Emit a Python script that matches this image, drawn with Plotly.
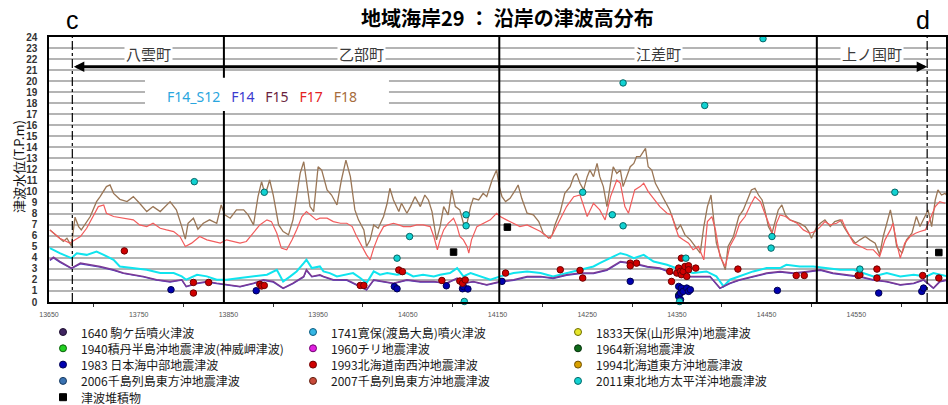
import plotly.graph_objects as go

# ---- simulated tsunami water levels along the coast (T.P. m) ----
F18_X = [13651, 13666, 13670, 13675, 13679, 13683, 13686, 13692, 13696, 13703,
         13707, 13714, 13718, 13722, 13729, 13737, 13744, 13751, 13759, 13766,
         13774, 13785, 13792, 13798, 13802, 13805, 13811, 13816, 13822, 13829,
         13837, 13842, 13846, 13852, 13859, 13867, 13872, 13878, 13883, 13887,
         13891, 13896, 13900, 13906, 13911, 13917, 13922, 13930, 13934,
         13941, 13945, 13950, 13954, 13960, 13965, 13971, 13976, 13981, 13986,
         13991, 13995, 14001, 14004, 14008, 14012, 14017, 14023, 14027, 14030,
         14034, 14040, 14043, 14049, 14053, 14058, 14064, 14069, 14073, 14077,
         14082, 14086, 14090, 14095, 14099, 14103, 14108, 14112, 14116, 14120,
         14123, 14129, 14134, 14138, 14144, 14149, 14152, 14155, 14159, 14164,
         14170, 14173, 14177, 14183, 14190, 14196, 14201, 14207, 14211, 14214,
         14220, 14225, 14231, 14235, 14238, 14242, 14246, 14250, 14253, 14257,
         14261, 14264, 14268, 14272, 14276, 14279, 14283, 14287, 14290, 14294,
         14298, 14302, 14305, 14309, 14315,
         14318, 14322, 14326, 14331, 14337, 14342, 14346, 14350, 14354, 14359,
         14365, 14370, 14376, 14380, 14384, 14388, 14391, 14394, 14400, 14404,
         14407, 14413, 14419, 14424, 14430, 14433, 14437, 14441, 14445, 14448,
         14452, 14456, 14459, 14463, 14467, 14471, 14476, 14482, 14487, 14493,
         14497, 14500, 14506, 14510, 14515, 14521, 14526, 14532, 14537, 14543,
         14549, 14554, 14560, 14565, 14571, 14576, 14580, 14584, 14588, 14591,
         14595, 14601, 14606, 14612, 14617, 14621, 14627, 14630, 14634, 14638,
         14641, 14645, 14649, 14652]
F18_Y = [6.53, 5.48, 5.78, 5.09, 7.68, 6.83, 6.53, 7.28, 7.74, 9.09,
         9.54, 10.45, 10.60, 9.84, 9.30, 9.09, 9.54, 8.94, 8.19, 8.64,
         8.19, 9.09, 8.34, 6.83, 5.69, 7.13, 7.59, 6.59, 7.13, 7.44,
         7.13, 8.79, 7.89, 7.59, 8.34, 8.34, 7.89, 6.98, 9.54, 10.90,
         9.69, 11.05, 9.69, 6.98, 6.38, 6.08, 7.44, 11.65, 12.70,
         8.64, 8.19, 12.25, 11.95, 10.15, 9.69, 8.79, 11.05, 12.85, 11.35,
         8.34, 7.44, 6.53, 5.03, 5.63, 6.98, 6.68, 7.74, 8.94, 10.30,
         9.24, 8.19, 8.94, 8.04, 8.64, 9.54, 8.64, 9.69, 9.24, 8.19,
         5.63, 6.83, 8.64, 7.89, 10.15, 8.64, 8.34, 7.13, 7.13, 8.64,
         9.39, 9.24, 9.84, 9.54, 11.05, 11.95, 10.45, 9.54, 9.09, 9.39,
         10.15, 10.60, 9.39, 8.04, 7.89, 7.28, 6.23, 5.78, 6.08, 6.98,
         8.19, 9.84, 10.45, 11.35, 11.65, 10.75, 10.15, 11.35, 11.95, 11.35,
         12.55, 11.35, 10.45, 8.64, 10.75, 12.25, 11.65, 11.95, 10.45, 11.35,
         12.25, 12.55, 13.16, 13.16, 13.91,
         12.25, 11.95, 10.75, 10.00, 9.09, 8.34, 7.44, 6.53, 6.98, 6.08,
         5.63, 5.03, 4.42, 6.83, 8.64, 9.69, 7.74, 5.33, 3.82, 2.92,
         5.03, 5.93, 7.74, 8.34, 9.54, 10.15, 10.30, 9.69, 9.24, 8.34,
         6.83, 6.23, 7.13, 8.34, 8.79, 7.89, 7.44, 7.28, 7.13, 6.83,
         6.38, 5.78, 6.83, 7.13, 7.44, 6.83, 7.28, 7.44, 6.68, 5.93,
         5.33, 5.63, 5.93, 5.63, 5.33, 4.27, 5.93, 7.13, 8.34, 7.13,
         5.03, 4.42, 5.63, 6.23, 7.74, 6.83, 7.89, 8.34, 6.83, 9.24,
         10.15, 9.69, 9.84, 9.54]

F17_X = [13651, 13662, 13673, 13685, 13692, 13699, 13705, 13711, 13714, 13722,
         13733, 13744, 13751, 13759, 13766, 13774, 13781, 13789, 13796, 13802,
         13809, 13818, 13826, 13833, 13841, 13848, 13855, 13863, 13870, 13878,
         13885, 13893, 13898, 13904, 13909, 13915, 13921, 13926, 13932, 13937,
         13943, 13948,
         13952, 13960, 13967, 13975, 13982, 13988, 13993, 13999, 14004, 14008,
         14012, 14017, 14023, 14028, 14034, 14040, 14045, 14053, 14060, 14067,
         14075, 14079, 14083, 14086, 14090, 14095, 14101, 14105, 14108, 14112,
         14116, 14118, 14121, 14127, 14134, 14142, 14149, 14153, 14160, 14168,
         14175, 14183, 14190, 14198, 14205, 14209, 14212, 14220, 14227, 14235,
         14242, 14250, 14257, 14264, 14270, 14276, 14283, 14287, 14292, 14296,
         14303, 14309, 14313, 14318, 14324, 14331, 14339, 14344, 14348, 14352,
         14357, 14363, 14368, 14374, 14380, 14384, 14389, 14393, 14398, 14404,
         14409, 14415, 14420, 14426, 14432, 14437, 14443, 14448, 14454, 14458,
         14461, 14465, 14471, 14476, 14484, 14491, 14498, 14504, 14510, 14515,
         14521, 14528, 14534, 14539, 14547, 14554, 14562, 14569, 14576, 14582,
         14588, 14591, 14595, 14599, 14604, 14610, 14616, 14621, 14627, 14632,
         14638, 14643, 14649]
F17_Y = [6.53, 5.78, 5.33, 5.93, 6.68, 7.74, 8.64, 8.79, 8.04, 7.74,
         7.59, 7.44, 6.98, 6.83, 7.13, 6.68, 6.53, 6.38, 5.93, 5.03,
         5.33, 5.93, 5.63, 5.48, 5.33, 5.63, 5.48, 5.33, 5.48, 6.23,
         6.98, 7.44, 7.28, 6.23, 4.88, 4.73, 5.63, 6.53, 7.74, 8.19,
         7.74, 7.44,
         7.59, 7.59, 7.28, 7.13, 7.13, 6.83, 5.93, 5.03, 4.27, 3.82,
         4.88, 5.93, 6.83, 6.98, 7.13, 6.98, 6.83, 6.83, 6.98, 6.98,
         6.83, 5.93, 4.73, 5.63, 6.53, 7.13, 7.59, 6.83, 5.93, 5.63,
         5.03, 4.42, 5.63, 6.83, 7.13, 7.44, 8.04, 7.74, 7.44, 7.13,
         6.83, 6.98, 6.68, 6.38, 5.93, 5.78, 6.23, 7.44, 8.64, 9.54,
         9.69, 7.74, 8.94, 8.34, 7.44, 9.54, 11.05, 10.75, 8.64, 8.04,
         10.15, 10.45, 10.75, 10.00, 9.39, 8.64, 8.04, 7.89, 6.83, 5.93,
         5.63, 5.33, 4.73, 5.03, 3.82, 7.28, 7.74, 6.53, 4.12, 3.22,
         5.03, 5.93, 7.13, 7.74, 8.79, 9.54, 9.09, 8.04, 6.83, 5.93,
         7.13, 7.89, 7.74, 7.44, 7.13, 6.53, 6.23, 6.38, 6.83, 7.28,
         6.98, 7.13, 7.44, 6.53, 5.33, 5.03, 4.73, 4.73, 4.12, 5.63,
         6.53, 7.13, 5.33, 3.97, 5.33, 5.93, 6.23, 6.38, 6.53, 7.44,
         8.64, 9.09, 8.94]

F14S12_X = [13651, 13662, 13675, 13681, 13692, 13703, 13711, 13722, 13729, 13744,
            13759, 13774, 13789, 13798, 13803, 13815, 13826, 13837, 13848, 13863,
            13878, 13893, 13904, 13911, 13919, 13926, 13934, 13937, 13943, 13952,
            13956, 13963, 13971, 13982, 13989, 13997, 14004, 14012, 14019, 14027,
            14038, 14049, 14056, 14067, 14079, 14086, 14097, 14105, 14112, 14120,
            14131, 14142, 14153, 14168, 14183, 14198, 14212, 14227, 14242, 14257,
            14264, 14279, 14287, 14294, 14302, 14313, 14324, 14339, 14354, 14368,
            14383, 14394, 14402, 14409, 14420, 14435, 14450, 14465, 14472, 14487,
            14502, 14517, 14532, 14547, 14558, 14569, 14584, 14599, 14614, 14628,
            14636, 14652]
F14S12_Y = [4.88, 4.42, 3.97, 4.42, 4.27, 4.57, 4.27, 3.82, 3.22, 3.07,
            2.92, 2.62, 2.62, 2.32, 2.02, 2.47, 2.32, 2.02, 2.02, 2.17,
            2.32, 2.47, 2.92, 1.86, 2.32, 2.77, 3.52, 3.82, 3.07, 3.22,
            2.77, 2.62, 2.32, 2.47, 2.62, 2.17, 1.71, 2.77, 2.47, 2.62,
            2.47, 2.62, 2.32, 2.47, 2.32, 2.47, 2.62, 3.07, 2.32, 2.62,
            2.32, 2.02, 2.32, 2.62, 2.77, 2.62, 2.32, 2.62, 2.92, 3.22,
            3.52, 4.12, 4.42, 4.27, 3.97, 4.27, 3.67, 3.37, 2.92, 2.62,
            2.77, 2.32, 1.41, 2.02, 2.32, 2.77, 3.07, 3.07, 3.37, 3.22,
            3.22, 3.07, 2.92, 2.92, 2.62, 2.32, 2.62, 2.32, 2.47, 2.32,
            2.62, 2.32]

F15_X = [13651, 13655, 13662, 13675, 13685, 13696, 13707, 13722, 13733, 13744,
         13755, 13770, 13785, 13798, 13803, 13815, 13826, 13837, 13848, 13863,
         13878, 13889, 13900, 13911, 13922, 13934, 13937, 13943, 13952, 13956,
         13967, 13982, 13997, 14004, 14012, 14023, 14034, 14049, 14064, 14079,
         14093, 14105, 14112, 14123, 14138, 14153, 14168, 14183, 14198, 14212,
         14227, 14242, 14257, 14272, 14287, 14302, 14317, 14331, 14346, 14361,
         14376, 14387, 14398, 14409, 14420, 14435, 14450, 14465, 14480, 14495,
         14510, 14524, 14539, 14554, 14569, 14584, 14599, 14614, 14625, 14636,
         14643, 14652]
F15_Y = [3.82, 4.06, 3.67, 3.07, 3.52, 3.37, 3.22, 2.92, 2.62, 2.47,
         2.32, 2.02, 1.86, 2.02, 1.41, 1.71, 1.86, 1.71, 1.56, 1.41,
         1.71, 2.02, 1.86, 1.26, 1.71, 2.32, 2.92, 2.32, 2.47, 2.32,
         2.02, 2.02, 1.41, 1.11, 2.02, 1.86, 1.71, 2.02, 1.86, 1.86,
         1.71, 2.17, 1.71, 1.86, 1.56, 1.86, 2.02, 2.32, 2.32, 2.17,
         2.47, 2.62, 2.62, 2.92, 3.67, 3.52, 3.22, 3.07, 2.62, 2.32,
         2.32, 2.32, 1.26, 1.71, 2.02, 2.32, 2.62, 2.77, 2.62, 2.77,
         2.92, 2.62, 2.47, 2.32, 2.02, 1.86, 1.56, 1.71, 2.02, 1.26,
         1.86, 2.02]
F14_Y = [3.75, 3.98, 3.60, 3.02, 3.45, 3.30, 3.15, 2.85, 2.58, 2.42,
         2.27, 1.98, 1.80, 1.97, 1.38, 1.66, 1.80, 1.66, 1.52, 1.37,
         1.66, 1.96, 1.80, 1.22, 1.66, 2.26, 2.85, 2.27, 2.41, 2.27,
         1.97, 1.96, 1.37, 1.08, 1.96, 1.80, 1.66, 1.96, 1.80, 1.81,
         1.66, 2.11, 1.66, 1.81, 1.52, 1.80, 1.96, 2.26, 2.27, 2.11,
         2.41, 2.56, 2.57, 2.86, 3.60, 3.45, 3.16, 3.01, 2.57, 2.27,
         2.26, 2.27, 1.22, 1.66, 1.97, 2.26, 2.56, 2.71, 2.57, 2.71,
         2.86, 2.57, 2.42, 2.26, 1.97, 1.81, 1.52, 1.66, 1.97, 1.22,
         1.81, 1.96]

# ---- observed historical tsunami heights / deposits ----
T2011_X = [13812, 13890, 14038, 14052, 14113, 14115, 14115, 14245, 14278, 14290,
           14290, 14353, 14360, 14381, 14446, 14455, 14456, 14554, 14593]
T2011_Y = [10.9, 9.94, 3.97, 5.93, 0.05, 6.9, 7.9, 9.94, 7.9, 6.9,
           19.84, 0.05, 3.97, 17.8, 23.85, 4.88, 5.93, 2.98, 9.94]
T1993_X = [13734, 13811, 13811, 13828, 13885, 13887, 13890, 13997, 14001, 14040,
           14044, 14088, 14108, 14111, 14114, 14159, 14220, 14242, 14245, 14298,
           14298, 14305, 14342, 14344, 14350, 14352, 14354, 14355, 14355, 14357,
           14359, 14361, 14363, 14363, 14371, 14418, 14483, 14492, 14552, 14554,
           14573, 14573, 14624, 14642]
T1993_Y = [4.63, 1.77, 0.81, 1.77, 1.6, 1.45, 1.5, 1.5, 1.5, 2.9,
           2.75, 1.95, 1.9, 1.7, 2.0, 2.62, 2.92, 2.86, 2.17, 3.52,
           3.28, 3.52, 2.77, 1.86, 2.62, 3.07, 2.77, 3.97, 2.47, 2.77,
           3.22, 2.32, 3.28, 2.92, 3.07, 2.98, 2.4, 2.4, 2.4, 2.45,
           2.98, 2.17, 2.4, 2.17]
T1983_X = [13786, 13881, 14035, 14038, 14093, 14111, 14112, 14117, 14155, 14298,
           14352, 14352, 14354, 14354, 14355, 14357, 14361, 14363, 14365, 14462,
           14575, 14623, 14625]
T1983_Y = [1.11, 1.02, 1.4, 1.2, 1.47, 1.2, 1.4, 1.18, 1.87, 1.87,
           1.41, 0.51, 0.81, 0.21, 1.26, 0.96, 1.26, 0.96, 1.11, 1.05,
           0.81, 0.96, 1.26]
T1964_X = [14352]
T1964_Y = [0.62]
DEPOSIT_X = [14101, 14161, 14642]
DEPOSIT_Y = [4.52, 6.78, 4.48]

# ---- axis / annotation content ----
XTICKS = [13650, 13750, 13850, 13950, 14050, 14150, 14250, 14350, 14450, 14550, 14650]
XTICK_TEXT = [str(v) for v in XTICKS]
XMINOR = [13700, 13800, 13900, 14000, 14100, 14200, 14300, 14400, 14500, 14600]
TOWN_BOUNDS = [13676, 13845, 14152, 14506, 14629]   # c, town borders, d
TOWNS = ["八雲町", "乙部町", "江差町", "上ノ国町"]
ARROW_Y = 21.3

TITLE = "地域海岸29 ： 沿岸の津波高分布"
YTITLE = "津波水位(T.P.m)"

SERIES = [  # name, x, y, colour, width
    ("F18", F18_X, F18_Y, "#9a7656", 1.3),
    ("F17", F17_X, F17_Y, "#f25c5c", 1.2),
    ("F14_S12", F14S12_X, F14S12_Y, "#10e4ee", 2.0),
    ("F14", F15_X, F14_Y, "#4f3fc0", 1.2),
    ("F15", F15_X, F15_Y, "#7b3a96", 1.5),
]
SERIES_LABEL_COLORS = {"F14_S12": "#2aa6de", "F14": "#3b3bcf", "F15": "#6a1f40",
                       "F17": "#e42222", "F18": "#a66c3c"}

EVENTS = [  # name, fill, outline, symbol, x, y   (row-major legend order)
    ("1640 駒ケ岳噴火津波", "#3f2460", "#1e0f30", "circle", [], []),
    ("1741寛保(渡島大島)噴火津波", "#35b6e4", "#0c5c80", "circle", [], []),
    ("1833天保(山形県沖)地震津波", "#e6e62a", "#6e6e00", "circle", [], []),
    ("1940積丹半島沖地震津波(神威岬津波)", "#22d022", "#0a600a", "circle", [], []),
    ("1960チリ地震津波", "#e020e0", "#700070", "circle", [], []),
    ("1964新潟地震津波", "#0f6a1a", "#04300a", "circle", T1964_X, T1964_Y),
    ("1983 日本海中部地震津波", "#0000b0", "#000050", "circle", T1983_X, T1983_Y),
    ("1993北海道南西沖地震津波", "#d00000", "#700000", "circle", T1993_X, T1993_Y),
    ("1994北海道東方沖地震津波", "#d8a000", "#705000", "circle", [], []),
    ("2006千島列島東方沖地震津波", "#3a72b2", "#163a60", "circle", [], []),
    ("2007千島列島東方沖地震津波", "#c84a3a", "#602010", "circle", [], []),
    ("2011東北地方太平洋沖地震津波", "#12d2d2", "#056868", "circle", T2011_X, T2011_Y),
    ("津波堆積物", "#000000", "#000000", "square", DEPOSIT_X, DEPOSIT_Y),
]

# ---- figure geometry (pixels) ----
W, H = 948, 405
ML, MR, MT, MB = 49, 2, 37, 103
PW, PH = W - ML - MR, H - MT - MB


def px_to_paper(px, py):
    return (px - ML) / PW, (H - MB - py) / PH


JP = "Noto Sans CJK JP, Noto Sans, sans-serif"

fig = go.Figure()

for name, xs, ys, color, width in SERIES:
    fig.add_trace(go.Scatter(x=xs, y=ys, mode="lines", name=name,
                             line=dict(color=color, width=width)))

# points drawn in chronological order, deposits last
for name, fill, edge, symbol, xs, ys in EVENTS:
    if xs:
        fig.add_trace(go.Scatter(x=xs, y=ys, mode="markers", name=name,
                                 cliponaxis=False,
                                 marker=dict(symbol=symbol, size=6.5, color=fill,
                                             line=dict(color=edge, width=1))))

shapes = []
annotations = []

# town borders (solid) and section ends c/d (dash-dot)
for i, xb in enumerate(TOWN_BOUNDS):
    end = i in (0, len(TOWN_BOUNDS) - 1)
    shapes.append(dict(type="line", xref="x", yref="paper", x0=xb, x1=xb, y0=0, y1=1,
                       line=dict(color="black", width=1.2 if end else 2,
                                 dash="dashdot" if end else "solid")))

# white panel behind the model-case labels
shapes.append(dict(type="rect", xref="x", yref="y", x0=13757, x1=14029, y0=17.3, y1=20.3,
                   fillcolor="white", line=dict(width=0)))

case_text = "&nbsp;&nbsp;&nbsp;".join(
    f'<span style="color:{SERIES_LABEL_COLORS[n]}">{n}</span>'
    for n in ["F14_S12", "F14", "F15", "F17", "F18"])
annotations.append(dict(x=13887, y=18.6, xref="x", yref="y", text=case_text,
                        xanchor="center", yanchor="middle",
                        showarrow=False, font=dict(size=14, family="Noto Sans, sans-serif")))

# town names between borders
for i, town in enumerate(TOWNS):
    annotations.append(dict(x=(TOWN_BOUNDS[i] + TOWN_BOUNDS[i + 1]) / 2, y=22.5,
                            xref="x", yref="y", text=town, showarrow=False,
                            xanchor="center", yanchor="middle",
                            bgcolor="white", borderpad=1,
                            font=dict(size=15, family=JP, color="#3a3a3a")))

# double-headed arrow spanning c to d
annotations.append(dict(x=TOWN_BOUNDS[-1], y=ARROW_Y, ax=TOWN_BOUNDS[0], ay=ARROW_Y,
                        xref="x", yref="y", axref="x", ayref="y", text="",
                        showarrow=True, arrowside="end+start", arrowhead=2,
                        startarrowhead=2, arrowsize=0.7, startarrowsize=0.7,
                        arrowwidth=3, arrowcolor="black", standoff=0, startstandoff=0))

# c / d section markers
for lab, xb in (("c", TOWN_BOUNDS[0]), ("d", TOWN_BOUNDS[-1] - 5)):
    annotations.append(dict(x=xb, y=px_to_paper(0, 20)[1], xref="x", yref="paper",
                            text=lab, showarrow=False, xanchor="center", yanchor="middle",
                            font=dict(size=25, family="Liberation Sans, sans-serif",
                                      color="black")))

# title
tx, ty = px_to_paper(507, 17)
annotations.append(dict(x=tx, y=ty, xref="paper", yref="paper", text=f"<b>{TITLE}</b>",
                        xanchor="center", yanchor="middle",
                        showarrow=False, font=dict(size=20, family=JP, color="black")))

# y-axis title
yx, yy = px_to_paper(18, 166)
annotations.append(dict(x=yx, y=yy, xref="paper", yref="paper", text=YTITLE,
                        xanchor="center", yanchor="middle",
                        textangle=-90, showarrow=False,
                        font=dict(size=13, family=JP, color="#111")))

# legend of historical events (3 columns, row-major)
LEG_MARK_PX = [63, 313, 578]
LEG_TEXT_PX = [80, 330, 595]
LEG_ROW0, LEG_DY = 332, 16.3
for i, (name, fill, edge, symbol, _, _) in enumerate(EVENTS):
    r, c = divmod(i, 3)
    py = LEG_ROW0 + r * LEG_DY
    mx, my = px_to_paper(LEG_MARK_PX[c], py)
    shapes.append(dict(type="rect" if symbol == "square" else "circle",
                       xref="paper", yref="paper", xsizemode="pixel", ysizemode="pixel",
                       xanchor=mx, yanchor=my, x0=-3.5, x1=3.5, y0=-3.5, y1=3.5,
                       fillcolor=fill, line=dict(color=edge, width=1)))
    lx, ly = px_to_paper(LEG_TEXT_PX[c], py)
    annotations.append(dict(x=lx, y=ly, xref="paper", yref="paper", text=name,
                            xanchor="left", yanchor="middle", showarrow=False,
                            borderpad=0,
                            font=dict(size=12, family=JP, color="#1a1a1a")))

fig.update_layout(
    width=W, height=H,
    margin=dict(l=ML, r=MR, t=MT, b=MB),
    paper_bgcolor="white", plot_bgcolor="white",
    showlegend=False,
    shapes=shapes, annotations=annotations,
    font=dict(family=JP, color="#222"),
)
fig.update_xaxes(range=[13650, 14650], tickmode="array", tickvals=XTICKS, ticktext=XTICK_TEXT,
                 tickfont=dict(size=7, color="#555", family="Liberation Sans, sans-serif"),
                 ticks="", showgrid=False, zeroline=False,
                 showline=True, linecolor="black", linewidth=1.5, mirror=True,
                 automargin=False, ticklabelstandoff=5,
                 minor=dict(tickmode="array", tickvals=XMINOR, ticks="outside",
                            ticklen=3, tickcolor="#333", showgrid=False))
fig.update_yaxes(range=[0, 24], tick0=0, dtick=1,
                 tickfont=dict(size=10, color="#333", family="Liberation Sans, sans-serif",
                               weight="bold"),
                 showgrid=True, gridcolor="#b4b4b4", gridwidth=1.5, zeroline=False,
                 showline=True, linecolor="black", linewidth=1.5, mirror=True,
                 ticks="", automargin=False, ticklabelstandoff=8)

fig.write_html("out.html")
